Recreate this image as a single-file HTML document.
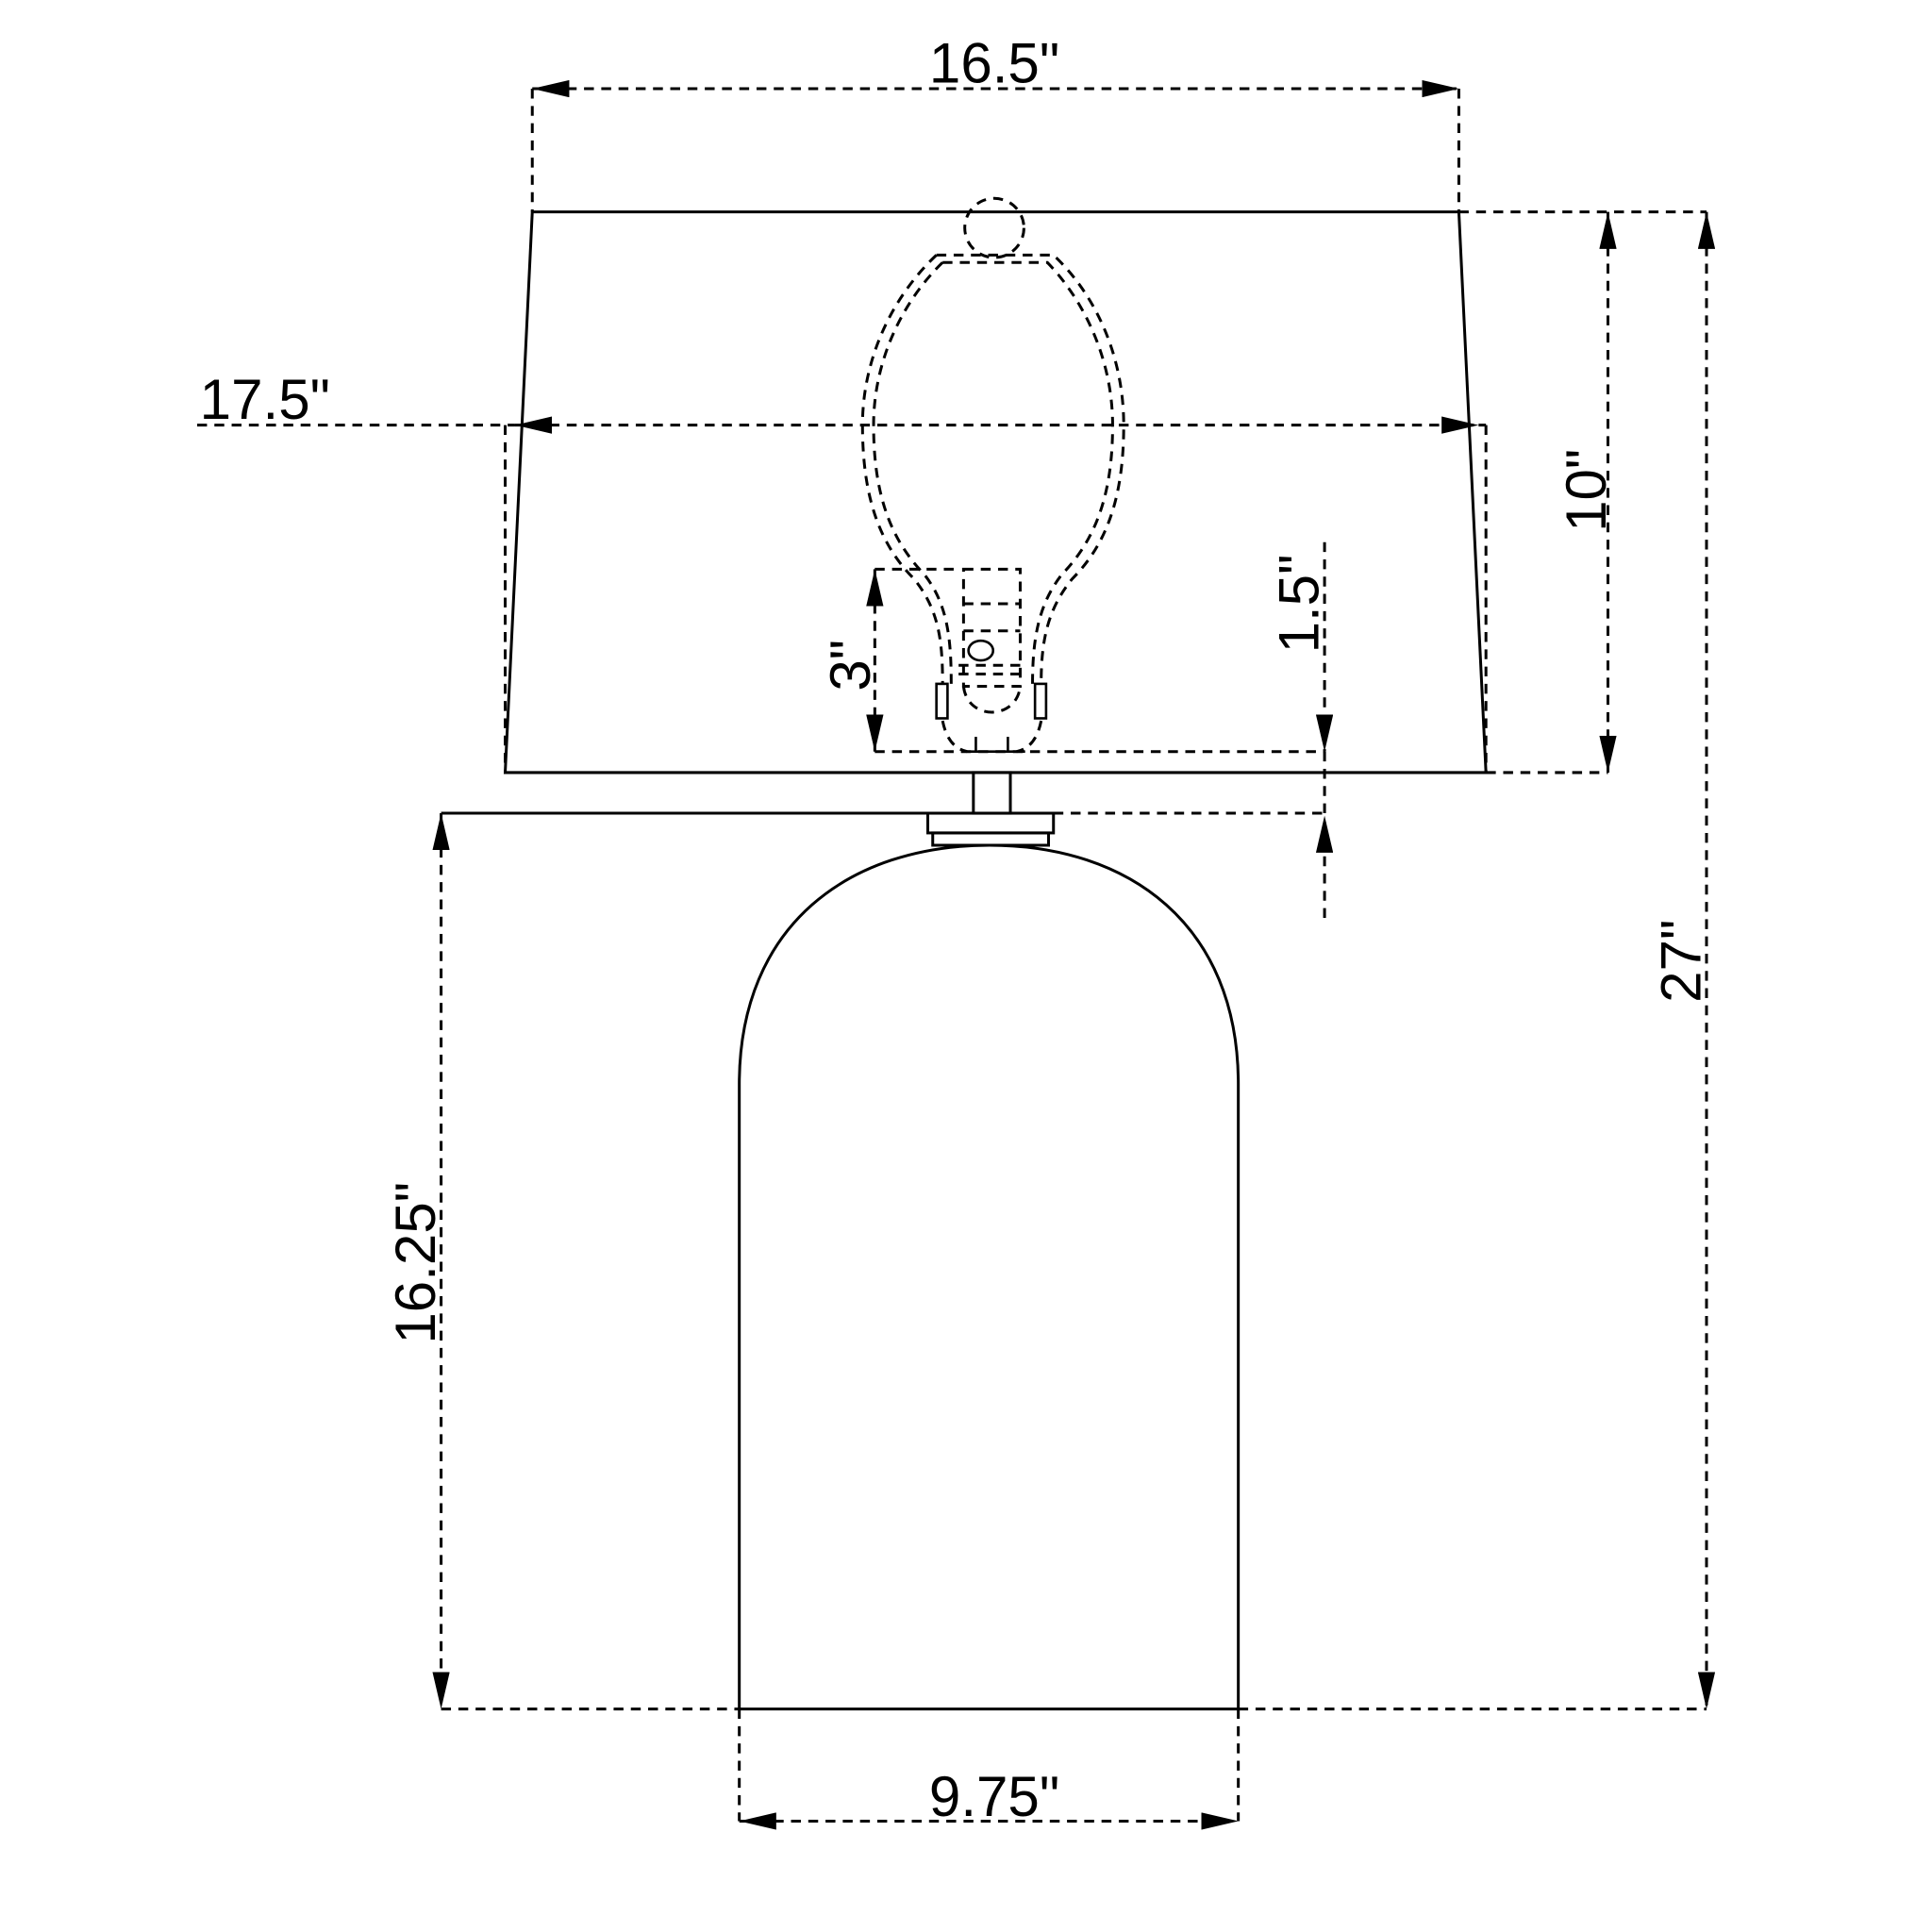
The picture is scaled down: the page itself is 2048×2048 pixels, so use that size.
<!DOCTYPE html>
<html><head><meta charset="utf-8"><style>html,body{margin:0;padding:0;background:#fff}svg{display:block}</style></head>
<body>
<svg width="2048" height="2048" viewBox="0 0 1568 1568" xmlns="http://www.w3.org/2000/svg">
<defs>
<marker id="a" viewBox="0 0 30 14" refX="30" refY="7" markerWidth="30" markerHeight="14" markerUnits="userSpaceOnUse" orient="auto-start-reverse"><path d="M0,0 L30,7 L0,14 Z" fill="#000"/></marker>
</defs>
<g fill="none" stroke="#000" stroke-width="2.3">
<path d="M432,172 L1184,172 L1206,627 L410,627 Z"/>
<rect x="790" y="627" width="30" height="33"/>
<line x1="358" y1="660" x2="855" y2="660"/>
<rect x="753" y="660" width="102" height="16"/>
<rect x="757" y="676" width="94" height="10"/>
<path d="M600,1387 L600,880 C600,750 690,686 803,686 C916,686 1005,750 1005,880 L1005,1387 Z"/>
</g>
<g fill="none" stroke="#000" stroke-width="2.3" stroke-dasharray="8,6">
<line x1="432" y1="72" x2="1184" y2="72" marker-start="url(#a)" marker-end="url(#a)"/>
<line x1="432" y1="72" x2="432" y2="172"/>
<line x1="1184" y1="72" x2="1184" y2="172"/>
<line x1="160" y1="345" x2="418" y2="345"/>
<line x1="418" y1="345" x2="1200" y2="345" marker-start="url(#a)" marker-end="url(#a)"/>
<line x1="1200" y1="345" x2="1206" y2="345"/>
<line x1="410" y1="345" x2="410" y2="627"/>
<line x1="1206" y1="345" x2="1206" y2="627"/>
<line x1="1184" y1="172" x2="1385" y2="172"/>
<line x1="1206" y1="627" x2="1305" y2="627"/>
<line x1="1305" y1="172" x2="1305" y2="627" marker-start="url(#a)" marker-end="url(#a)"/>
<line x1="1385" y1="172" x2="1385" y2="1387" marker-start="url(#a)" marker-end="url(#a)"/>
<line x1="358" y1="1387" x2="600" y2="1387"/>
<line x1="1005" y1="1387" x2="1385" y2="1387"/>
<line x1="358" y1="660" x2="358" y2="1387" marker-start="url(#a)" marker-end="url(#a)"/>
<line x1="600" y1="1387" x2="600" y2="1478"/>
<line x1="1005" y1="1387" x2="1005" y2="1478"/>
<line x1="600" y1="1478" x2="1005" y2="1478" marker-start="url(#a)" marker-end="url(#a)"/>
<line x1="855" y1="660" x2="1075" y2="660"/>
<line x1="1075" y1="440" x2="1075" y2="610" marker-end="url(#a)"/>
<line x1="1075" y1="745" x2="1075" y2="662" marker-end="url(#a)"/>
<line x1="1075" y1="610" x2="1075" y2="662"/>
<line x1="710" y1="462" x2="780" y2="462"/>
<line x1="710" y1="610" x2="1075" y2="610"/>
<line x1="710" y1="462" x2="710" y2="610" marker-start="url(#a)" marker-end="url(#a)"/>
<circle cx="807" cy="185" r="24"/>
<path d="M760,207 L855,207 C890,240 912,290 912,345 C912,400 900,440 870,470 C850,495 845,520 845,555"/>
<path d="M760,207 C725,240 700,290 700,345 C700,400 712,440 742,470 C762,495 765,520 765,555"/>
<path d="M765,213 L850,213 C880,244 903,292 903,345 C903,398 891,436 862,466 C843,490 838,518 838,555"/>
<path d="M765,213 C733,244 709,292 709,345 C709,398 721,436 750,466 C769,490 772,518 772,555"/>
<rect x="782" y="462" width="46" height="95"/>
<line x1="782" y1="490" x2="828" y2="490"/>
<line x1="782" y1="512" x2="828" y2="512"/>
<line x1="778" y1="540" x2="832" y2="540"/>
<line x1="778" y1="547" x2="832" y2="547"/>
<path d="M782,557 C785,585 825,585 828,557"/>
<path d="M765,585 C768,600 775,608 785,610"/>
<path d="M845,585 C842,600 835,608 825,610"/>
</g>
<g fill="none" stroke="#000" stroke-width="2">
<ellipse cx="796" cy="528" rx="10" ry="8"/>
<rect x="760" y="555" width="9" height="28"/>
<rect x="840" y="555" width="9" height="28"/>
<line x1="792" y1="598" x2="792" y2="610"/>
<line x1="818" y1="598" x2="818" y2="610"/>
<line x1="780" y1="610" x2="832" y2="610"/>
</g>
<g font-family="'Liberation Sans', sans-serif" font-size="46" fill="#000">
<text x="807" y="67" text-anchor="middle">16.5"</text>
<text x="215" y="340" text-anchor="middle">17.5"</text>
<text x="807" y="1474" text-anchor="middle">9.75"</text>
<text transform="translate(1303,398) rotate(-90)" text-anchor="middle">10"</text>
<text transform="translate(1380,780) rotate(-90)" text-anchor="middle">27"</text>
<text transform="translate(353,1025) rotate(-90)" text-anchor="middle">16.25"</text>
<text transform="translate(1070,490) rotate(-90)" text-anchor="middle">1.5"</text>
<text transform="translate(706,540) rotate(-90)" text-anchor="middle">3"</text>
</g>
</svg>
</body></html>
